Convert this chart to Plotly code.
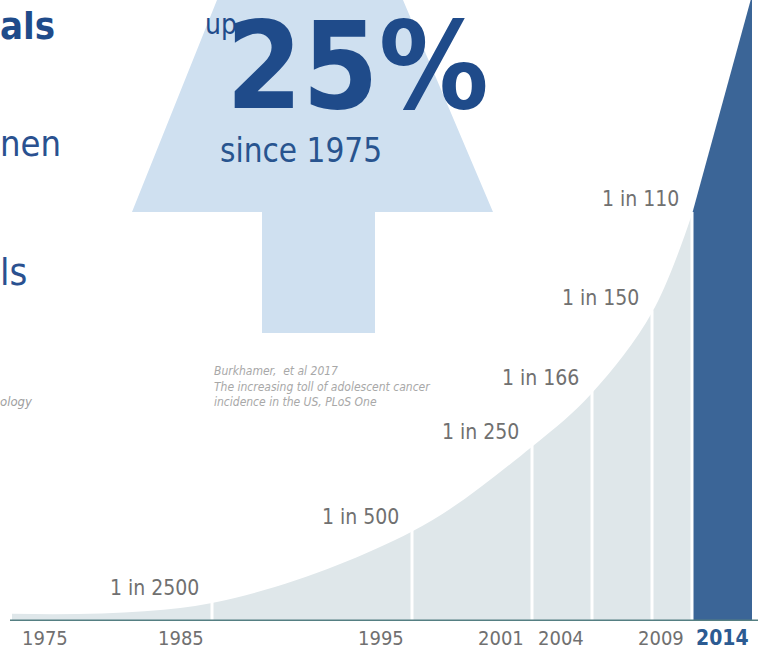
import plotly.graph_objects as go

# ---------------- data ----------------
boundary_years = [1975, 1985, 1995, 2001, 2004, 2007, 2009]
curve_per_10k = [1.6, 4, 20, 39, 51, 69, 91]
rate_labels = ["", "1 in 2500", "1 in 500", "1 in 250", "1 in 166", "1 in 150", "1 in 110"]
latest_bar_x = [2009, 2012]
latest_bar_per_10k = [91, 140]
tick_years = [1975, 1985, 1995, 2001, 2004, 2009, 2014]
tick_labels = ["1975", "1985", "1995", "2001", "2004", "2009", "2014"]

W, H = 758, 650
PLOT_H = 621
FONT = "DejaVu Sans Condensed, DejaVu Sans, sans-serif"
GREY = "#707070"
BLUE = "#1f4b8a"
LIGHT = "#dfe7ea"
DARK = "#3b6597"
ARROW = "#cfe0f0"


def px(x):
    return x / W


def py(y):
    return (PLOT_H - y) / PLOT_H


def cond(t):
    return '<span style="font-stretch:condensed">' + t + '</span>'


def fnt(size, color, weight="normal", style="normal"):
    return dict(family=FONT, size=size, color=color, weight=weight, style=style)


fig = go.Figure()

# light area
fig.add_trace(go.Scatter(
    x=boundary_years, y=curve_per_10k, mode="lines",
    line=dict(shape="spline", width=0, color=LIGHT, smoothing=1.0),
    fill="tozeroy", fillcolor=LIGHT, hoverinfo="skip", showlegend=False))

# latest (dark) bar
fig.add_trace(go.Scatter(
    x=[latest_bar_x[0], latest_bar_x[0], latest_bar_x[1], latest_bar_x[1]],
    y=[0, latest_bar_per_10k[0], latest_bar_per_10k[1], 0], mode="lines",
    line=dict(width=0, color=DARK), fill="toself", fillcolor=DARK,
    hoverinfo="skip", showlegend=False))

shapes = []
# white separators between periods
for yr, v in zip(boundary_years[1:], curve_per_10k[1:]):
    shapes.append(dict(type="line", xref="x", yref="y", x0=yr, x1=yr, y0=0, y1=v + 0.5,
                       line=dict(color="white", width=3), layer="above"))
# baseline
shapes.append(dict(type="line", xref="x", yref="y", x0=1974.9, x1=2012.4, y0=0, y1=0,
                   line=dict(color="#557f82", width=3), layer="above"))

# up arrow (decoration)
pts = [(217, 0), (403, 0), (493, 212), (375, 212), (375, 333), (262, 333), (262, 212), (132, 212)]
path = "M " + " L ".join(f"{px(a):.5f},{py(b):.5f}" for a, b in pts) + " Z"
shapes.append(dict(type="path", xref="paper", yref="paper", path=path,
                   fillcolor=ARROW, line=dict(width=0), layer="below"))

annotations = []
# rate labels
for yr, v, lab in zip(boundary_years, curve_per_10k, rate_labels):
    if lab:
        annotations.append(dict(x=yr, y=v, xref="x", yref="y", text=cond(lab), showarrow=False,
                                xanchor="right", yanchor="middle", xshift=-11, yshift=15,
                                font=fnt(21, GREY)))
# tick labels
for yr, lab in zip(tick_years, tick_labels):
    if yr == tick_years[0]:
        a = dict(x=yr, xanchor="left", xshift=8)
        f = fnt(20, GREY)
    elif yr == tick_years[-1]:
        a = dict(x=sum(latest_bar_x) / 2, xanchor="center", xshift=0)
        f = fnt(21, "#2c5b92", weight="bold")
    else:
        a = dict(x=yr, xanchor="right", xshift=-6)
        f = fnt(20, GREY)
    a.update(y=0, xref="x", yref="paper", yanchor="middle", yshift=-17, text=cond(lab),
             showarrow=False, font=f)
    annotations.append(a)

# headline text on the arrow
annotations += [
    dict(x=px(203), y=py(25), xref="paper", yref="paper", xanchor="left", yanchor="middle",
         text=cond("up"), showarrow=False, font=fnt(28, BLUE)),
    dict(x=px(357), y=py(66), xref="paper", yref="paper", xanchor="center", yanchor="middle",
         text=cond("25%"), showarrow=False, font=fnt(122, BLUE, weight="bold")),
    dict(x=px(301), y=py(151), xref="paper", yref="paper", xanchor="center", yanchor="middle",
         text=cond("since 1975"), showarrow=False, font=fnt(33, "#28548f")),
    dict(x=px(212), y=py(386), xref="paper", yref="paper", xanchor="left", yanchor="middle",
         align="left", showarrow=False,
         text="<br>".join(cond(t) for t in ["Burkhamer,  et al 2017",
                                             "The increasing toll of adolescent cancer",
                                             "incidence in the US, PLoS One"]),
         font=fnt(12, "#a8a8a8", style="italic")),
]

# cropped text fragments at the left edge
annotations += [
    dict(x=0, y=py(26), xref="paper", yref="paper", xanchor="left", yanchor="middle", xshift=-2,
         text=cond("als"), showarrow=False, font=fnt(38, BLUE, weight="bold")),
    dict(x=0, y=py(143), xref="paper", yref="paper", xanchor="left", yanchor="middle", xshift=-2,
         text=cond("nen"), showarrow=False, font=fnt(36, "#2a5190")),
    dict(x=0, y=py(272), xref="paper", yref="paper", xanchor="left", yanchor="middle", xshift=-2,
         text=cond("ls"), showarrow=False, font=fnt(38, "#2a5190")),
    dict(x=0, y=py(401), xref="paper", yref="paper", xanchor="left", yanchor="middle", xshift=-2,
         text=cond("ology"), showarrow=False, font=fnt(13, "#a0a0a0", style="italic")),
]

fig.update_layout(
    width=W, height=H,
    margin=dict(l=0, r=0, t=0, b=H - PLOT_H, pad=0),
    paper_bgcolor="white", plot_bgcolor="white",
    xaxis=dict(range=[1985 - 212 / 20, 1985 + (W - 212) / 20], showgrid=False, zeroline=False,
               showticklabels=False, ticks="", showline=False, fixedrange=True),
    yaxis=dict(range=[0, PLOT_H / 4.47], showgrid=False, zeroline=False,
               showticklabels=False, ticks="", showline=False, fixedrange=True),
    shapes=shapes, annotations=annotations, showlegend=False,
)

fig.write_html("out.html", config={"displayModeBar": False})
